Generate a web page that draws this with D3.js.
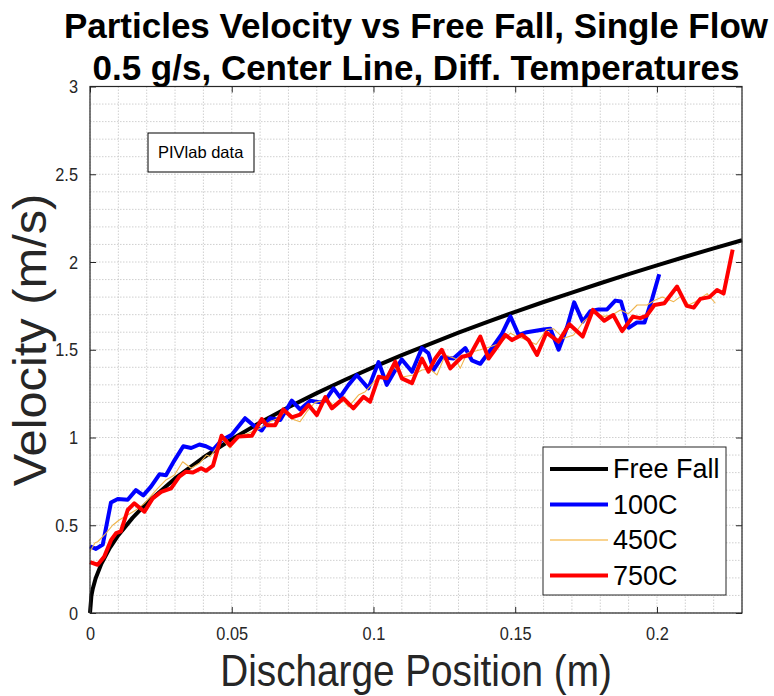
<!DOCTYPE html>
<html>
<head>
<meta charset="utf-8">
<script src="https://cdn.jsdelivr.net/npm/d3@7"></script>
<style>
  body { margin: 0; background: #fff; }
  text { font-family: "Liberation Sans", Arial, sans-serif; }
</style>
</head>
<body>
<div id="chart"></div>
<script>
// data (position m, velocity m/s)
const freeFall = [[0,0],[0.0005,0.099],[0.001,0.14],[0.002,0.198],[0.004,0.28],[0.007,0.371],[0.01,0.443],
  [0.015,0.542],[0.02,0.626],[0.03,0.767],[0.04,0.886],[0.05,0.99],[0.06,1.085],[0.07,1.172],[0.08,1.253],
  [0.09,1.329],[0.1,1.401],[0.11,1.469],[0.12,1.534],[0.13,1.597],[0.14,1.657],[0.15,1.716],[0.16,1.772],
  [0.17,1.826],[0.18,1.879],[0.19,1.931],[0.2,1.981],[0.21,2.03],[0.22,2.078],[0.23,2.124]]

const t100 = [[0,0.38],[0.0021,0.365],[0.0045,0.39],[0.0074,0.63],[0.0098,0.65],[0.0133,0.645],[0.0162,0.7],
  [0.0188,0.67],[0.0215,0.72],[0.0245,0.79],[0.0268,0.785],[0.0298,0.87],[0.0329,0.95],[0.0357,0.94],
  [0.0386,0.96],[0.0409,0.95],[0.0434,0.93],[0.0465,0.985],[0.05,1.015],[0.0547,1.11],[0.0576,1.07],
  [0.0606,1.04],[0.0635,1.11],[0.0671,1.1],[0.0712,1.21],[0.0741,1.16],[0.0777,1.21],[0.0812,1.2],
  [0.083,1.21],[0.0859,1.28],[0.0882,1.23],[0.0912,1.3],[0.0941,1.356],[0.0982,1.28],[0.1018,1.43],
  [0.1047,1.3],[0.1077,1.385],[0.11,1.445],[0.1136,1.375],[0.1171,1.51],[0.1194,1.48],[0.1212,1.385],
  [0.1241,1.457],[0.1282,1.45],[0.1324,1.51],[0.1347,1.44],[0.1377,1.42],[0.1418,1.51],[0.1453,1.59],
  [0.1483,1.69],[0.1512,1.585],[0.1541,1.6],[0.16,1.615],[0.1624,1.62],[0.1653,1.5],[0.1683,1.63],
  [0.1708,1.77],[0.1738,1.66],[0.1765,1.72],[0.1794,1.73],[0.1824,1.73],[0.1853,1.78],[0.1873,1.775],
  [0.19,1.625],[0.1929,1.655],[0.1956,1.655],[0.1983,1.79],[0.2008,1.93]]

const t450 = [[0,0.35],[0.0018,0.4],[0.0027,0.406],[0.0056,0.454],[0.008,0.5],[0.0103,0.53],[0.0133,0.558],
  [0.0162,0.587],[0.0192,0.625],[0.0233,0.7],[0.0268,0.758],[0.0298,0.786],[0.0327,0.862],[0.0357,0.825],
  [0.0386,0.853],[0.0411,0.9],[0.0424,0.89],[0.0466,0.99],[0.0494,0.94],[0.0523,1.005],[0.0559,1.024],
  [0.06,1.052],[0.0635,1.09],[0.0665,1.11],[0.0688,1.147],[0.0712,1.105],[0.0741,1.09],[0.0765,1.147],
  [0.0794,1.2],[0.0835,1.214],[0.0859,1.185],[0.0888,1.223],[0.0912,1.175],[0.0947,1.242],[0.0971,1.261],
  [0.1012,1.337],[0.1041,1.337],[0.1071,1.403],[0.1106,1.346],[0.1141,1.356],[0.1171,1.385],[0.12,1.39],
  [0.1224,1.356],[0.1253,1.47],[0.1288,1.45],[0.1306,1.394],[0.133,1.48],[0.1377,1.5],[0.1412,1.517],
  [0.1447,1.537],[0.1483,1.594],[0.1506,1.575],[0.1541,1.555],[0.1574,1.53],[0.161,1.615],[0.1635,1.62],
  [0.1671,1.565],[0.1706,1.584],[0.1741,1.66],[0.1779,1.713],[0.1812,1.69],[0.1842,1.698],[0.1871,1.727],
  [0.1899,1.705],[0.193,1.755],[0.1965,1.755],[0.1994,1.784],[0.2019,1.8],[0.2059,1.774],[0.2089,1.81],
  [0.2112,1.755],[0.2136,1.774],[0.2177,1.82],[0.2206,1.765]]

const t750 = [[0,0.29],[0.0027,0.275],[0.005,0.32],[0.0074,0.415],[0.0092,0.455],[0.0109,0.465],[0.0133,0.587],
  [0.0156,0.625],[0.0192,0.577],[0.0221,0.653],[0.0251,0.69],[0.0286,0.71],[0.0315,0.777],[0.0339,0.805],
  [0.0363,0.8],[0.0392,0.825],[0.0409,0.81],[0.0434,0.84],[0.0464,1.01],[0.0494,0.955],[0.0523,1.005],
  [0.0571,1.01],[0.0606,1.105],[0.0624,1.07],[0.0653,1.07],[0.0682,1.16],[0.0712,1.115],[0.0741,1.13],
  [0.0771,1.185],[0.08,1.128],[0.083,1.23],[0.0853,1.166],[0.0894,1.223],[0.0929,1.166],[0.0965,1.232],
  [0.0988,1.204],[0.1018,1.346],[0.1047,1.337],[0.1077,1.432],[0.11,1.337],[0.1136,1.31],[0.1171,1.45],
  [0.1194,1.375],[0.1218,1.45],[0.1241,1.5],[0.1271,1.394],[0.1312,1.46],[0.1341,1.47],[0.1377,1.575],
  [0.1406,1.45],[0.1436,1.517],[0.1465,1.585],[0.1489,1.555],[0.1524,1.585],[0.1547,1.555],[0.1577,1.47],
  [0.161,1.597],[0.1653,1.546],[0.1691,1.645],[0.1738,1.575],[0.1774,1.727],[0.1814,1.665],[0.1846,1.698],
  [0.1877,1.606],[0.1915,1.689],[0.1941,1.68],[0.1964,1.695],[0.1991,1.755],[0.2026,1.765],[0.2071,1.86],
  [0.2105,1.75],[0.213,1.74],[0.2153,1.79],[0.2185,1.8],[0.2212,1.84],[0.2235,1.82],[0.2267,2.07]]

const seriesNames = ['Free Fall', '100C', '450C', '750C']
const xTicks = [0, 0.05, 0.1, 0.15, 0.2]
const yTicks = [0, 0.5, 1, 1.5, 2, 2.5, 3]
const xMinor = d3.range(0, 0.2301, 0.01)
const yMinor = d3.range(0, 3.001, 0.1)

// const
const width = 774
const height = 696
const margin = { top: 86.5, right: 32, bottom: 83, left: 90 }
const ink = '#262626'

const series = [
  { name: seriesNames[0], data: freeFall, color: '#000000', w: 4, key: '#000000', kw: 4 },
  { name: seriesNames[1], data: t100, color: '#0000ff', w: 4, key: '#0000ff', kw: 4 },
  { name: seriesNames[2], data: t450, color: '#f0b44c', w: 1.1, key: '#f9d38f', kw: 2 },
  { name: seriesNames[3], data: t750, color: '#ff0000', w: 4, key: '#ff0000', kw: 4 }
]

// svg
const svg = d3.select('#chart')
  .append('svg')
  .attr('width', width)
  .attr('height', height)

const x = d3.scaleLinear()
  .domain([0, 0.23])
  .range([margin.left, width - margin.right])
const y = d3.scaleLinear()
  .domain([0, 3])
  .range([height - margin.bottom, margin.top])

// grid (dotted, major + minor)
const grid = svg.append('g')
  .attr('stroke', '#c4c4c4')
  .attr('stroke-width', 0.8)
  .attr('stroke-dasharray', '1.5,1.5')
grid.selectAll('.gx').data(xMinor).join('line')
  .attr('x1', d => x(d)).attr('x2', d => x(d))
  .attr('y1', y(0)).attr('y2', y(3))
grid.selectAll('.gy').data(yMinor).join('line')
  .attr('y1', d => y(d)).attr('y2', d => y(d))
  .attr('x1', x(0)).attr('x2', x(0.23))

// lines
const line = d3.line()
  .x(d => x(d[0]))
  .y(d => y(d[1]))

svg.append('g')
  .selectAll('path')
  .data(series)
  .join('path')
  .attr('d', d => line(d.data))
  .attr('fill', 'none')
  .attr('stroke', d => d.color)
  .attr('stroke-width', d => d.w)
  .attr('stroke-linejoin', 'round')

// axes, ticks inside on all sides
const axisStyle = g => {
  g.select('.domain').remove()
  g.selectAll('line').attr('stroke', ink)
  g.selectAll('text')
    .attr('fill', ink)
    .attr('font-size', 19)
    .attr('transform', 'scale(0.86,1)')
}
svg.append('g')
  .attr('transform', `translate(0, ${y(0)})`)
  .call(d3.axisBottom(x).tickValues(xTicks).tickFormat(d => String(d)).tickSizeInner(-6).tickPadding(14))
  .call(axisStyle)
svg.append('g')
  .attr('transform', `translate(${x(0)}, 0)`)
  .call(d3.axisLeft(y).tickValues(yTicks).tickFormat(d => String(d)).tickSizeInner(-6).tickPadding(14))
  .call(axisStyle)
svg.append('g')
  .attr('transform', `translate(0, ${y(3)})`)
  .call(d3.axisTop(x).tickValues(xTicks).tickFormat('').tickSizeInner(-6))
  .call(axisStyle)
svg.append('g')
  .attr('transform', `translate(${x(0.23)}, 0)`)
  .call(d3.axisRight(y).tickValues(yTicks).tickFormat('').tickSizeInner(-6))
  .call(axisStyle)

svg.append('rect')
  .attr('x', x(0)).attr('y', y(3))
  .attr('width', x(0.23) - x(0)).attr('height', y(0) - y(3))
  .attr('fill', 'none').attr('stroke', ink).attr('stroke-width', 1.2)

// titles
const cx = (x(0) + x(0.23)) / 2
svg.append('text')
  .attr('x', cx).attr('y', 38)
  .attr('text-anchor', 'middle').attr('font-weight', 'bold').attr('font-size', 35)
  .text('Particles Velocity vs Free Fall, Single Flow')
svg.append('text')
  .attr('x', cx).attr('y', 80)
  .attr('text-anchor', 'middle').attr('font-weight', 'bold').attr('font-size', 35)
  .text('0.5 g/s, Center Line, Diff. Temperatures')
svg.append('text')
  .attr('transform', `translate(${cx}, 686) scale(0.88,1)`)
  .attr('text-anchor', 'middle').attr('font-size', 44).attr('fill', ink)
  .text('Discharge Position (m)')
svg.append('text')
  .attr('transform', `translate(46, 340) rotate(-90) scale(1.06,1)`)
  .attr('text-anchor', 'middle').attr('font-size', 46).attr('fill', ink)
  .text('Velocity (m/s)')

// annotation
svg.append('rect')
  .attr('x', 148).attr('y', 133).attr('width', 106).attr('height', 39)
  .attr('fill', '#fff').attr('stroke', '#000')
svg.append('text')
  .attr('x', 158).attr('y', 158)
  .attr('font-size', 16.5)
  .text('PIVlab data')

// legend
const legend = svg.append('g').attr('transform', 'translate(543, 447)')
legend.append('rect')
  .attr('width', 183).attr('height', 148)
  .attr('fill', '#fff').attr('stroke', ink)
const item = legend.selectAll('.item')
  .data(series)
  .join('g')
  .attr('transform', (d, i) => `translate(0, ${22 + i * 35.5})`)
item.append('line')
  .attr('x1', 7).attr('x2', 65)
  .attr('stroke', d => d.key)
  .attr('stroke-width', d => d.kw)
item.append('text')
  .attr('x', 70).attr('dy', '0.35em')
  .attr('font-size', 27)
  .text(d => d.name)
</script>
</body>
</html>
